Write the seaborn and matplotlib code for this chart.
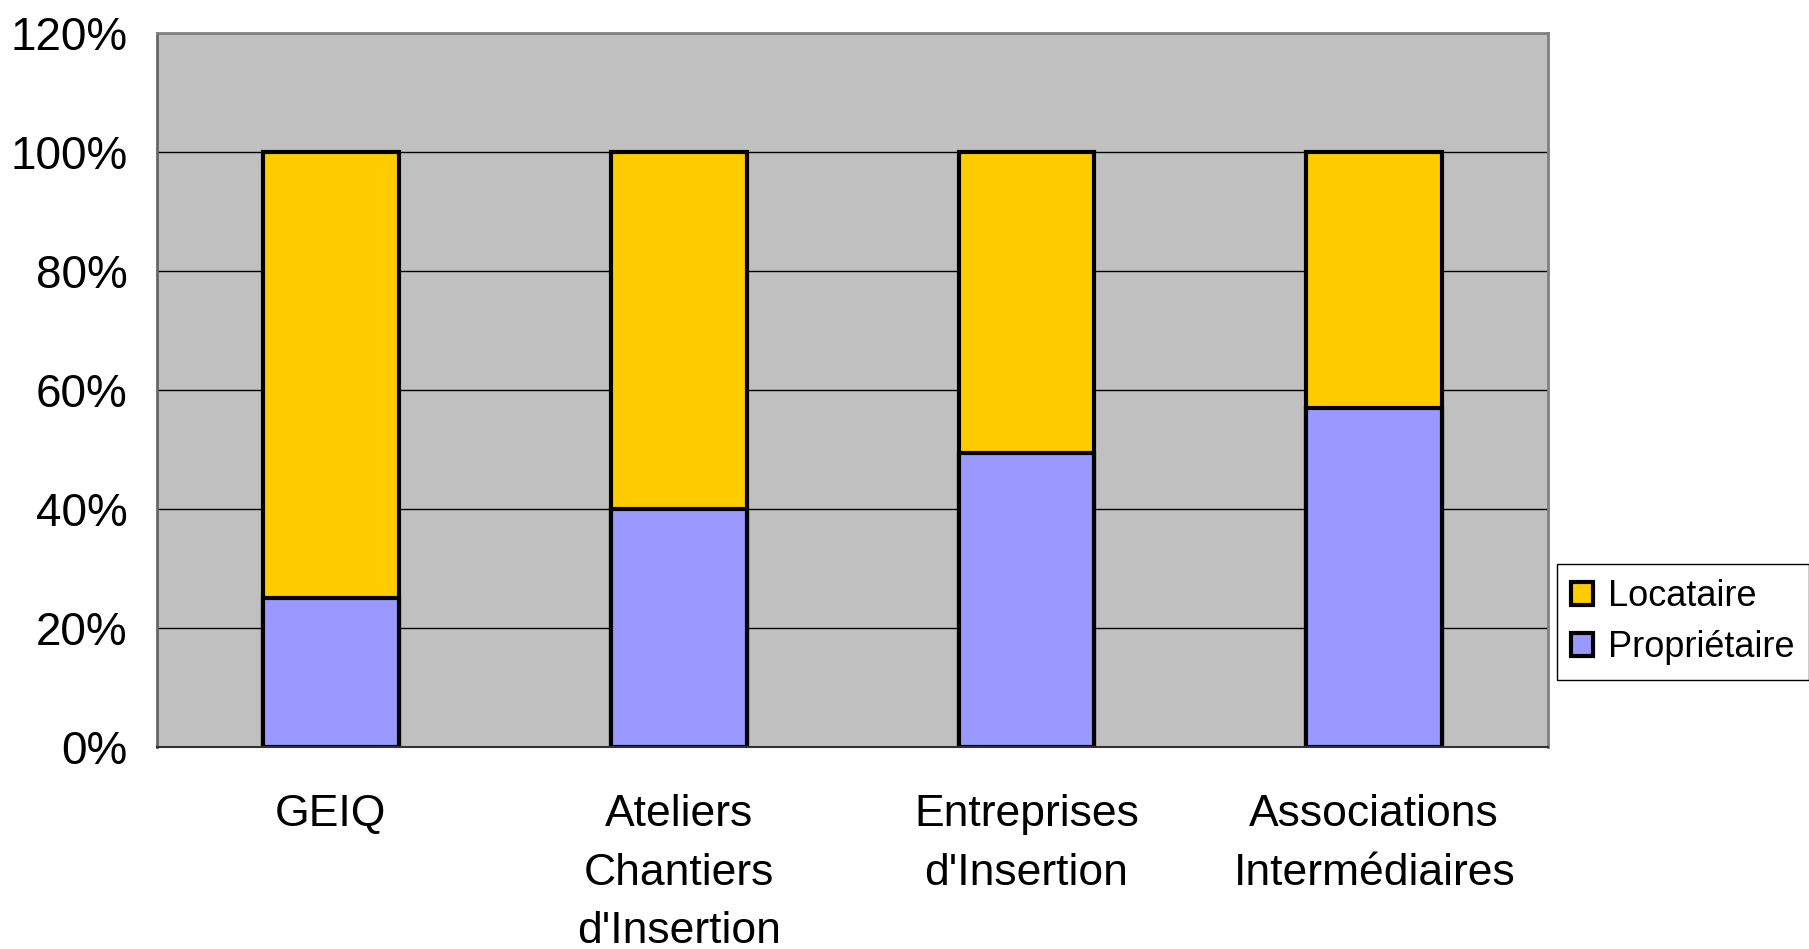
import pandas as pd
import matplotlib
matplotlib.use('Agg')
import matplotlib.pyplot as plt
import seaborn as sns
from matplotlib.patches import Patch

# Données (en %)
categories = ['GEIQ', "Ateliers\nChantiers\nd'Insertion", "Entreprises\nd'Insertion", 'Associations\nIntermédiaires']
proprietaire = [25, 40, 49.5, 57]
locataire = [75, 60, 50.5, 43]
yticks = [0, 20, 40, 60, 80, 100, 120]

col_loc = '#FFCC00'
col_prop = '#9999FF'

sns.set_theme(style='white')
plt.rcParams['font.family'] = ['Liberation Sans', 'DejaVu Sans']
plt.rcParams['text.color'] = 'black'
plt.rcParams['xtick.color'] = 'black'
plt.rcParams['ytick.color'] = 'black'

df = pd.DataFrame({'categorie': categories, 'Propriétaire': proprietaire, 'Locataire': locataire})
df['total'] = df['Propriétaire'] + df['Locataire']

fig = plt.figure(figsize=(18.09, 9.49), dpi=100)
ax = fig.add_axes([0.0868, 0.2128, 0.769, 0.752])
ax.set_facecolor('#C0C0C0')
ax.set_axisbelow(True)
ax.grid(axis='y', color='black', linewidth=1)

# barres empilées : total (locataire) puis propriétaire par-dessus
sns.barplot(data=df, x='categorie', y='total', color=col_loc, width=0.39,
            edgecolor='black', linewidth=3, saturation=1, ax=ax)
sns.barplot(data=df, x='categorie', y='Propriétaire', color=col_prop, width=0.39,
            edgecolor='black', linewidth=3, saturation=1, ax=ax)

ax.set_xlim(-0.5, 3.5)
ax.set_ylim(0, 120)
ax.set_yticks(yticks)
ax.set_yticklabels([f'{v}%' for v in yticks], fontsize=33)
ax.set_xticks(range(len(categories)))
ax.set_xticklabels(categories, fontsize=32, linespacing=1.55)
ax.set_xticks([-0.5, 0.5, 1.5, 2.5, 3.5], minor=True)
ax.tick_params(axis='x', which='major', length=0, pad=34)
ax.tick_params(axis='x', which='minor', length=10, width=1, color='#333333', direction='out')
ax.tick_params(axis='y', length=10, width=1, color='#333333', direction='out', pad=11)
ax.set_xlabel('')
ax.set_ylabel('')

for s in ['top', 'right']:
    ax.spines[s].set_color('#808080')
    ax.spines[s].set_linewidth(2)
ax.spines['left'].set_color('#666666')
ax.spines['left'].set_linewidth(2)
ax.spines['bottom'].set_color('#333333')
ax.spines['bottom'].set_linewidth(1.5)

handles = [Patch(facecolor=col_loc, edgecolor='black', linewidth=3, label='Locataire'),
           Patch(facecolor=col_prop, edgecolor='black', linewidth=3, label='Propriétaire')]
leg = fig.legend(handles=handles, loc='center left', bbox_to_anchor=(1557 / 1809, 1 - 622 / 949),
                 fontsize=26, frameon=True, fancybox=False, edgecolor='black', framealpha=1,
                 handlelength=0.6, handleheight=0.6, handletextpad=0.4, labelspacing=0.45,
                 borderpad=0.4, borderaxespad=0)
leg.get_frame().set_linewidth(1)

fig.savefig('out.png', dpi=100, facecolor='white')
